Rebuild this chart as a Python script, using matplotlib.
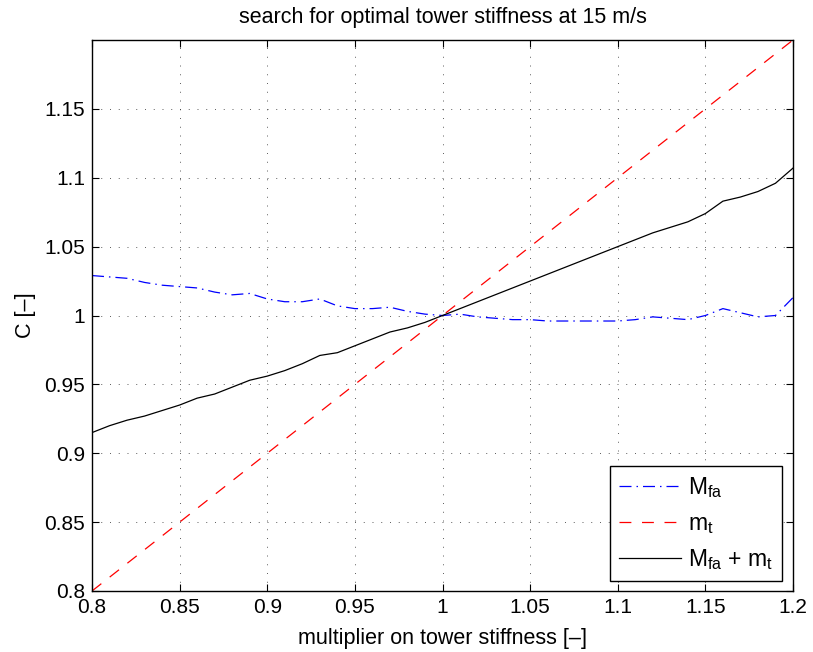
import numpy as np
import matplotlib
matplotlib.use("Agg")
import matplotlib.pyplot as plt

plt.rcParams['font.family'] = ['Liberation Sans', 'DejaVu Sans']

x = [0.80, 0.81, 0.82, 0.83, 0.84, 0.85, 0.86, 0.87, 0.88, 0.89, 0.90,
     0.91, 0.92, 0.93, 0.94, 0.95, 0.96, 0.97, 0.98, 0.99, 1.00,
     1.01, 1.02, 1.03, 1.04, 1.05, 1.06, 1.07, 1.08, 1.09, 1.10,
     1.11, 1.12, 1.13, 1.14, 1.15, 1.16, 1.17, 1.18, 1.19, 1.20]
M_fa = [1.029, 1.028, 1.027, 1.024, 1.022, 1.021, 1.020, 1.017, 1.015, 1.016, 1.012,
        1.010, 1.010, 1.012, 1.007, 1.005, 1.005, 1.006, 1.003, 1.001, 1.000,
        1.001, 0.999, 0.998, 0.997, 0.997, 0.996, 0.996, 0.996, 0.996, 0.996,
        0.997, 0.999, 0.998, 0.997, 1.000, 1.005, 1.002, 0.999, 1.000, 1.013]
m_t = [0.80, 0.81, 0.82, 0.83, 0.84, 0.85, 0.86, 0.87, 0.88, 0.89, 0.90,
       0.91, 0.92, 0.93, 0.94, 0.95, 0.96, 0.97, 0.98, 0.99, 1.00,
       1.01, 1.02, 1.03, 1.04, 1.05, 1.06, 1.07, 1.08, 1.09, 1.10,
       1.11, 1.12, 1.13, 1.14, 1.15, 1.16, 1.17, 1.18, 1.19, 1.20]
total = [0.915, 0.920, 0.924, 0.927, 0.931, 0.935, 0.940, 0.943, 0.948, 0.953, 0.956,
         0.960, 0.965, 0.971, 0.973, 0.978, 0.983, 0.988, 0.991, 0.995, 1.000,
         1.005, 1.010, 1.015, 1.020, 1.025, 1.030, 1.035, 1.040, 1.045, 1.050,
         1.055, 1.060, 1.064, 1.068, 1.074, 1.083, 1.086, 1.090, 1.096, 1.107]

xticks = [0.8, 0.85, 0.9, 0.95, 1.0, 1.05, 1.1, 1.15, 1.2]
xticklabels = ['0.8', '0.85', '0.9', '0.95', '1', '1.05', '1.1', '1.15', '1.2']
yticks = [0.8, 0.85, 0.9, 0.95, 1.0, 1.05, 1.1, 1.15]
yticklabels = ['0.8', '0.85', '0.9', '0.95', '1', '1.05', '1.1', '1.15']

fig = plt.figure(figsize=(8.13, 6.52), dpi=100)
ax = fig.add_axes([92/813, 1 - 591/652, (793-92)/813, (591-40)/652])

ax.plot(x, M_fa, color='#0000ff', linestyle=(0, (9.6, 4, 1.2, 4)), linewidth=0.9, label=r'M$_{\mathregular{fa}}$')
ax.plot(x, m_t, color='#ff0000', linestyle=(0, (9.5, 8.5)), linewidth=0.9, label=r'm$_{\mathregular{t}}$')
ax.plot(x, total, color='black', linestyle='-', linewidth=0.9, label=r'M$_{\mathregular{fa}}$ + m$_{\mathregular{t}}$')

ax.set_xlim(0.8, 1.2)
ax.set_ylim(0.8, 1.2)
ax.set_xticks(xticks)
ax.set_xticklabels(xticklabels)
ax.set_yticks(yticks)
ax.set_yticklabels(yticklabels)
ax.tick_params(direction='in', top=True, right=True, labelsize=15, length=5, width=0.8, pad=5)
ax.grid(True, color='#333333', linestyle=(0, (1, 8)), linewidth=0.7, alpha=0.8)
for s in ax.spines.values():
    s.set_linewidth(1.0)

ax.set_title('search for optimal tower stiffness at 15 m/s', fontsize=15.5, pad=12)
ax.set_xlabel('multiplier on tower stiffness [\u2013]', fontsize=15.5, labelpad=8)
ax.set_ylabel('C [\u2013]', fontsize=15.5, labelpad=6)

leg = ax.legend(loc='lower right', bbox_to_anchor=(0.984, 0.018), fontsize=16.5, frameon=True,
                fancybox=False, edgecolor='black', framealpha=1, borderpad=0.4,
                handlelength=2.7, handletextpad=0.3, labelspacing=0.5, borderaxespad=0)
leg.get_frame().set_linewidth(1.0)

fig.savefig('out.png', dpi=100)
